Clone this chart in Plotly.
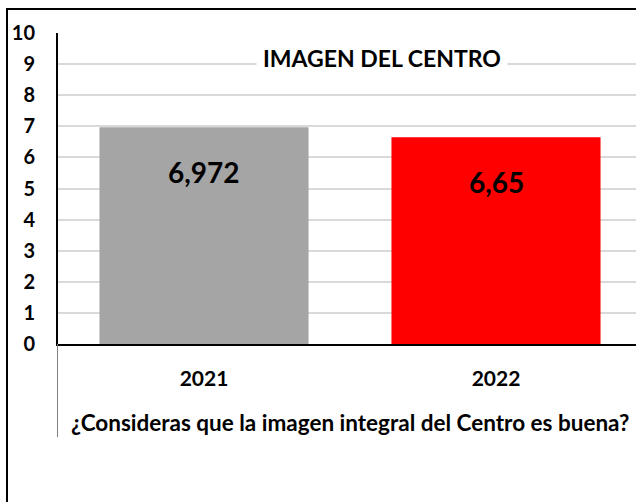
import plotly.graph_objects as go

categories = ["2021", "2022"]
values = [6.972, 6.65]
value_labels = ["6,972", "6,65"]
bar_colors = ["#a5a5a5", "#ff0000"]
y_ticks = list(range(0, 11))
chart_title = "IMAGEN DEL CENTRO"
x_title = "¿Consideras que la imagen integral del Centro es buena?"

# the reference is a crop of a wider chart: the figure is made wider than the
# 636 px window and its right part falls outside the view
W, H = 650, 502
L, R, T, B = 58, 8, 33, 158
pw = W - L - R
ph = H - T - B

def px_x(p):
    return (p - L) / pw

def px_y(p):
    return (H - B - p) / ph

FONT = "Lato"

fig = go.Figure()
fig.add_trace(go.Bar(
    x=categories, y=values, marker=dict(color=bar_colors, line=dict(width=0)),
    width=0.716, hoverinfo="skip",
))

for i, (v, t) in enumerate(zip(values, value_labels)):
    fig.add_annotation(x=i, y=v, xref="x", yref="y", text=t, showarrow=False,
                       yshift=-45, yanchor="middle",
                       font=dict(family=FONT, size=28, color="black", weight="bold"))

fig.add_annotation(x=px_x(382), y=px_y(58), xref="paper", yref="paper",
                   text=chart_title, showarrow=False, bgcolor="white", borderpad=6,
                   xanchor="center", yanchor="middle",
                   font=dict(family=FONT, size=23, color="black", weight="bold"))

fig.add_annotation(x=0.5, y=px_y(423), xref="x", yref="paper", text=x_title,
                   showarrow=False, xanchor="center", yanchor="middle",
                   font=dict(family=FONT, size=22.5, color="black", weight="bold"))

# outer chart border (top and left edges visible in the crop)
fig.add_shape(type="line", xref="paper", yref="paper",
              x0=px_x(6), x1=px_x(W), y0=px_y(9), y1=px_y(9),
              line=dict(color="black", width=2))
fig.add_shape(type="line", xref="paper", yref="paper",
              x0=px_x(7), x1=px_x(7), y0=px_y(9), y1=px_y(H),
              line=dict(color="black", width=2))
# category-axis separator line below the plot
fig.add_shape(type="line", xref="paper", yref="paper",
              x0=px_x(57.5), x1=px_x(57.5), y0=px_y(437), y1=0,
              line=dict(color="#7f7f7f", width=1))

fig.update_layout(
    width=W, height=H,
    margin=dict(l=L, r=R, t=T, b=B),
    paper_bgcolor="white", plot_bgcolor="white",
    showlegend=False, bargap=0.284,
    font=dict(family=FONT, color="black"),
)
fig.update_xaxes(
    type="category", range=[-0.5, 1.5],
    showline=True, linecolor="black", linewidth=2,
    showgrid=False, zeroline=False, ticks="",
    ticklabelstandoff=15,
    tickfont=dict(family=FONT, size=21, color="black", weight="bold"),
)
fig.update_yaxes(
    range=[0, 10], tickvals=y_ticks,
    showline=True, linecolor="black", linewidth=2,
    showgrid=True, gridcolor="#d9d9d9", gridwidth=1.5, zeroline=False,
    ticks="", ticklabelstandoff=17,
    tickfont=dict(family=FONT, size=20, color="black", weight="bold"),
)

fig.write_html("out.html", config={"displayModeBar": False},
               post_script="document.body.style.margin='0';document.body.style.overflow='hidden';")
